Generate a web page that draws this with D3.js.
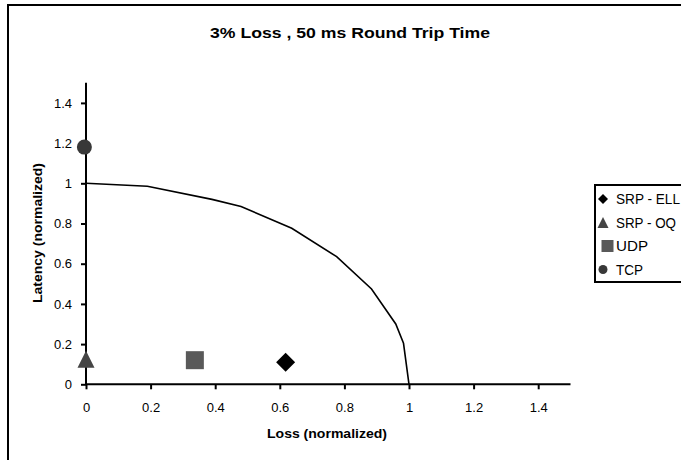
<!DOCTYPE html>
<html><head><meta charset="utf-8">
<script src="https://cdn.jsdelivr.net/npm/d3@7"></script>
<style>body{margin:0;background:#fff}svg{display:block;font-family:Arial,"Liberation Sans",sans-serif}</style>
</head><body><svg id="c" width="681" height="460"></svg>
<script>
// Data
const curveLoss    = [0, 0.19, 0.39, 0.48, 0.637, 0.776, 0.884, 0.959, 0.983, 1.0];
const curveLatency = [1, 0.985, 0.92, 0.885, 0.776, 0.635, 0.474, 0.30, 0.204, 0];
const seriesNames  = ["SRP - ELL", "SRP - OQ", "UDP", "TCP"];
const seriesLoss   = [0.618, 0, 0.337, -0.005];
const seriesLatency= [0.11, 0.12, 0.12, 1.18];
const xTicks = [0, 0.2, 0.4, 0.6, 0.8, 1, 1.2, 1.4];
const yTicks = [0, 0.2, 0.4, 0.6, 0.8, 1, 1.2, 1.4];

const svg = d3.select("#c");
const x = d3.scaleLinear().domain([0, 1.5]).range([86, 570.5]);
const y = d3.scaleLinear().domain([0, 1.5]).range([384.3, 82.8]);

// outer frame
svg.append("rect").attr("x", 8).attr("y", 5).attr("width", 700).attr("height", 500)
  .attr("fill", "none").attr("stroke", "#000").attr("stroke-width", 2);

svg.append("text").attr("x", 350).attr("y", 38).attr("text-anchor", "middle")
  .attr("font-weight", "bold").attr("font-size", 15)
  .attr("textLength", 280).attr("lengthAdjust", "spacingAndGlyphs")
  .text("3% Loss , 50 ms Round Trip Time");

// axes
const fmt = d => String(+d.toFixed(1));
const xAxis = svg.append("g").attr("transform", `translate(0,${y(0)})`)
  .call(d3.axisBottom(x).tickValues(xTicks).tickSize(5).tickPadding(13).tickFormat(fmt));
const yAxis = svg.append("g").attr("transform", `translate(${x(0)},0)`)
  .call(d3.axisLeft(y).tickValues(yTicks).tickSize(5).tickPadding(9).tickFormat(fmt));
[xAxis, yAxis].forEach(g => {
  g.select(".domain").attr("stroke-width", 2);
  g.selectAll(".tick line").attr("stroke-width", 2);
  g.selectAll("text").attr("font-size", 13).attr("font-family", "Arial, 'Liberation Sans', sans-serif").attr("fill", "#000");
});
xAxis.select(".domain").attr("d", `M${x(0)},0H${x(1.5)}`);
yAxis.select(".domain").attr("d", `M0,${y(0)}V${y(1.5)}`);

svg.append("text").attr("x", 327).attr("y", 438).attr("text-anchor", "middle")
  .attr("font-weight", "bold").attr("font-size", 13)
  .attr("textLength", 120).attr("lengthAdjust", "spacingAndGlyphs")
  .text("Loss (normalized)");
svg.append("text").attr("transform", "translate(42,233) rotate(-90)").attr("text-anchor", "middle")
  .attr("font-weight", "bold").attr("font-size", 13)
  .attr("textLength", 140).attr("lengthAdjust", "spacingAndGlyphs")
  .text("Latency (normalized)");

// curve
const pts = curveLoss.map((v, i) => [v, curveLatency[i]]);
svg.append("path").datum(pts)
  .attr("d", d3.line().x(d => x(d[0])).y(d => y(d[1])))
  .attr("fill", "none").attr("stroke", "#000").attr("stroke-width", 1.6);

// symbols
const colors = ["#000000", "#454545", "#595959", "#383838"];
function shape(i, s) {
  if (i === 0) return `M0,${-s}L${s},0L0,${s}L${-s},0Z`;
  if (i === 1) return `M0,${-s}L${s},${s}L${-s},${s}Z`;
  if (i === 2) return `M${-s},${-s}H${s}V${s}H${-s}Z`;
  return d3.arc()({innerRadius: 0, outerRadius: s, startAngle: 0, endAngle: 2 * Math.PI});
}
const sizes = [9.5, 8.5, 9, 7.5];
seriesNames.forEach((n, i) => {
  svg.append("path").attr("d", shape(i, sizes[i]))
    .attr("transform", `translate(${x(seriesLoss[i])},${y(seriesLatency[i]) + (i === 1 ? -1 : 0)})`)
    .attr("fill", colors[i]);
});

// legend
const lg = svg.append("g");
lg.append("rect").attr("x", 595).attr("y", 185).attr("width", 120).attr("height", 97)
  .attr("fill", "#fff").attr("stroke", "#000").attr("stroke-width", 2);
const lsz = [5, 5.5, 6, 4.5];
const lx = [603, 603, 607.5, 603];
const lw = [64, 60, 32, 27];
seriesNames.forEach((n, i) => {
  const cy = 199 + i * 23.5;
  lg.append("path").attr("d", shape(i, lsz[i])).attr("transform", `translate(${lx[i]},${cy})`).attr("fill", colors[i]);
  lg.append("text").attr("x", 616).attr("y", cy + 5).attr("font-size", 14)
    .attr("textLength", lw[i]).attr("lengthAdjust", "spacingAndGlyphs").text(n);
});
</script></body></html>
